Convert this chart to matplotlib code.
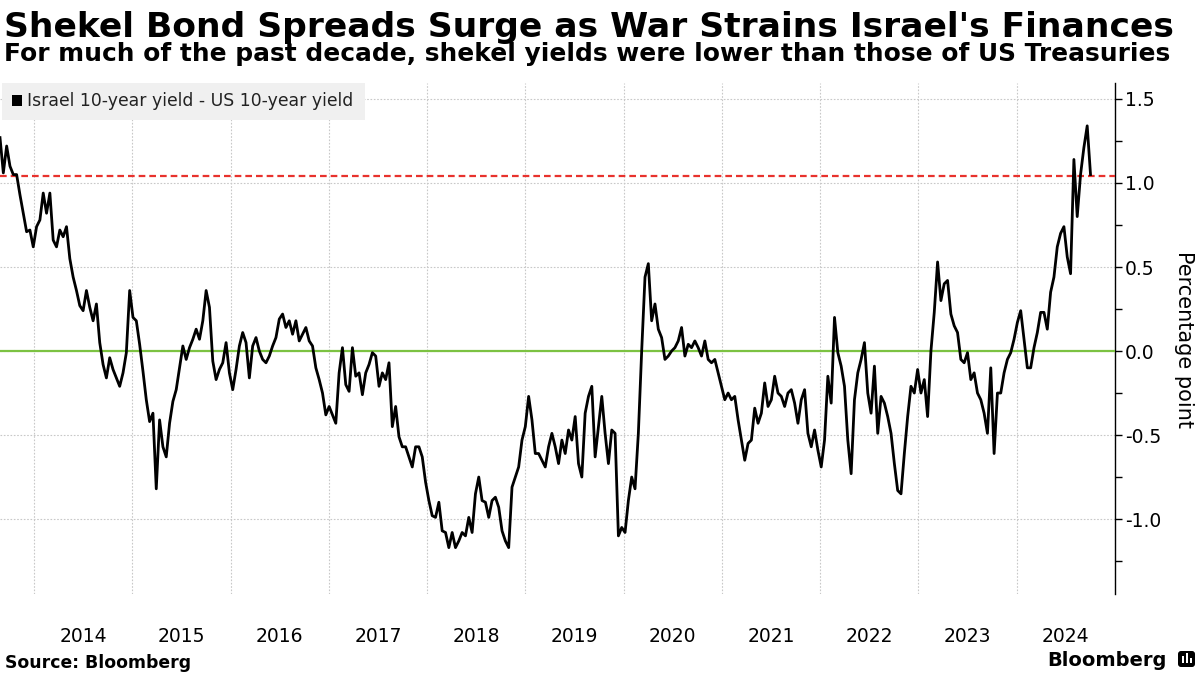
import numpy as np
import pandas as pd
import matplotlib
matplotlib.use('Agg')
import matplotlib.pyplot as plt
import matplotlib.dates as mdates
from matplotlib.ticker import MultipleLocator, FormatStrFormatter, NullFormatter
from matplotlib.patches import Rectangle, FancyBboxPatch
from matplotlib.transforms import IdentityTransform

plt.rcParams['font.family'] = ['DejaVu Sans']
plt.rcParams['axes.unicode_minus'] = False

# Israel 10y minus US 10y, percentage points
start_date = '2013-08-27'
end_date = '2024-10-02'

spread_2013_2015 = [1.27, 1.06, 1.22, 1.10, 1.05, 1.05, 0.93, 0.82, 0.71, 0.72,
                    0.62, 0.74, 0.78, 0.94, 0.82, 0.94, 0.66, 0.62, 0.72, 0.68,
                    0.74, 0.55, 0.44, 0.36, 0.27, 0.24, 0.36, 0.26, 0.18, 0.28,
                    0.05, -0.08, -0.16, -0.04, -0.11, -0.16, -0.21, -0.13, -0.01, 0.36,
                    0.20, 0.18, 0.04, -0.12, -0.29, -0.42, -0.37, -0.82, -0.41, -0.57,
                    -0.63, -0.43, -0.30, -0.23, -0.10, 0.03, -0.05]
spread_2015_2017 = [0.02, 0.07, 0.13, 0.07, 0.18, 0.36, 0.26, -0.06, -0.17, -0.11,
                    -0.07, 0.05, -0.13, -0.23, -0.11, 0.03, 0.11, 0.05, -0.16, 0.03,
                    0.08, 0.00, -0.05, -0.07, -0.03, 0.03, 0.08, 0.19, 0.22, 0.14,
                    0.18, 0.10, 0.18, 0.06, 0.10, 0.14, 0.06, 0.03, -0.10, -0.17,
                    -0.25, -0.38, -0.33, -0.38, -0.43, -0.13, 0.02, -0.20, -0.24, 0.02,
                    -0.15, -0.13, -0.26, -0.13, -0.08, -0.01, -0.03, -0.21]
spread_2017_2019 = [-0.13, -0.17, -0.07, -0.45, -0.33, -0.51, -0.57, -0.57, -0.63, -0.69,
                    -0.57, -0.57, -0.63, -0.78, -0.89, -0.98, -0.99, -0.90, -1.07, -1.08,
                    -1.17, -1.08, -1.17, -1.13, -1.08, -1.10, -0.99, -1.08, -0.85, -0.75,
                    -0.89, -0.90, -0.99, -0.89, -0.87, -0.93, -1.07, -1.13, -1.17, -0.81,
                    -0.75, -0.69, -0.53, -0.45, -0.27, -0.41, -0.61, -0.61, -0.65, -0.69,
                    -0.57, -0.49, -0.57, -0.67, -0.53, -0.61, -0.47]
spread_2019_2021 = [-0.53, -0.39, -0.67, -0.75, -0.37, -0.27, -0.21, -0.63, -0.45, -0.27,
                    -0.49, -0.67, -0.47, -0.49, -1.10, -1.05, -1.08, -0.89, -0.75, -0.82,
                    -0.49, 0.00, 0.44, 0.52, 0.18, 0.28, 0.13, 0.08, -0.05, -0.03,
                    0.00, 0.02, 0.06, 0.14, -0.03, 0.04, 0.02, 0.06, 0.02, -0.03,
                    0.06, -0.05, -0.07, -0.05, -0.13, -0.21, -0.29, -0.25, -0.29, -0.27,
                    -0.41, -0.53, -0.65, -0.55, -0.53, -0.34]
spread_2021_2023 = [-0.43, -0.37, -0.19, -0.33, -0.29, -0.15, -0.25, -0.27, -0.33, -0.25,
                    -0.23, -0.31, -0.43, -0.29, -0.23, -0.49, -0.57, -0.47, -0.59, -0.69,
                    -0.53, -0.15, -0.31, 0.20, -0.01, -0.09, -0.21, -0.53, -0.73, -0.29,
                    -0.13, -0.05, 0.05, -0.25, -0.37, -0.09, -0.49, -0.27, -0.31, -0.39,
                    -0.49, -0.67, -0.83, -0.85, -0.61, -0.39, -0.21, -0.25, -0.11, -0.25,
                    -0.17, -0.39, 0.00, 0.23, 0.53, 0.30, 0.40]
spread_2023_2024 = [0.42, 0.22, 0.15, 0.11, -0.05, -0.07, -0.01, -0.17, -0.13, -0.25,
                    -0.29, -0.37, -0.49, -0.10, -0.61, -0.25, -0.25, -0.13, -0.05, -0.01,
                    0.07, 0.17, 0.24, 0.07, -0.10, -0.10, 0.02, 0.11, 0.23, 0.23,
                    0.13, 0.35, 0.44, 0.62, 0.70, 0.74, 0.56, 0.46, 1.14, 0.80,
                    1.05, 1.21, 1.34, 1.05]

latest_level = 1.04
zero_level = 0.0

title = "Shekel Bond Spreads Surge as War Strains Israel's Finances"
subtitle = "For much of the past decade, shekel yields were lower than those of US Treasuries"
series_name = "Israel 10-year yield - US 10-year yield"
y_label = "Percentage point"
source = "Source: Bloomberg"

spread = (spread_2013_2015 + spread_2015_2017 + spread_2017_2019 +
          spread_2019_2021 + spread_2021_2023 + spread_2023_2024)
dates = pd.date_range(start_date, end_date, periods=len(spread))

W, H = 1200, 675
def fx(px):
    return px / W
def fy(py):
    return 1 - py / H

fig = plt.figure(figsize=(12, 6.75), dpi=100)
ax = fig.add_axes([0, fy(594), fx(1115), (594 - 83) / H])

ax.plot(dates, spread, color='black', lw=2.0, zorder=4)
ax.axhline(zero_level, color='#7cc242', lw=1.6, zorder=3)
ax.axhline(latest_level, color='#e8322d', lw=1.6, ls=(0, (3, 1.8)), zorder=3)

ax.set_xlim(pd.Timestamp('2013-08-27'), pd.Timestamp('2025-01-01'))
ax.set_ylim(-1.446, 1.595)

for s in ['top', 'left', 'bottom']:
    ax.spines[s].set_visible(False)
ax.spines['right'].set_color('black')
ax.spines['right'].set_linewidth(1)

ax.yaxis.tick_right()
ax.yaxis.set_major_locator(MultipleLocator(0.5))
ax.yaxis.set_minor_locator(MultipleLocator(0.25))
ax.yaxis.set_major_formatter(FormatStrFormatter('%.1f'))
ax.tick_params(axis='y', which='both', direction='out', length=5, width=1,
               color='black', labelsize=13.5, pad=2)

ax.xaxis.set_major_locator(mdates.YearLocator())
ax.xaxis.set_major_formatter(NullFormatter())
ax.xaxis.set_minor_locator(mdates.MonthLocator(bymonth=7, bymonthday=2))
ax.xaxis.set_minor_formatter(mdates.DateFormatter('%Y'))
ax.tick_params(axis='x', which='both', length=0, labelsize=13.5, pad=24)

ax.grid(True, which='major', color='#c8c8c8', ls=(0, (1.5, 1.5)), lw=0.8, zorder=1)

# legend box
fig.add_artist(Rectangle((fx(2), fy(120)), fx(363), 37 / H, transform=fig.transFigure,
                         facecolor='#f0f0f0', edgecolor='none', zorder=5))
fig.add_artist(Rectangle((fx(12), fy(106)), fx(10), 11 / H, transform=fig.transFigure,
                         facecolor='black', edgecolor='none', zorder=6))
fig.text(fx(27), fy(101), series_name, fontsize=12.4, va='center', ha='left',
         color='#222222', zorder=6)

fig.text(fx(4), fy(37), title, fontsize=24.8, weight='bold', va='baseline')
fig.text(fx(4), fy(61), subtitle, fontsize=17.9, weight='bold', va='baseline')
fig.text(fx(1184), fy(340), y_label, fontsize=15, rotation=270, va='center', ha='center')
fig.text(fx(5), fy(668), source, fontsize=12.4, weight='bold', va='baseline')
fig.text(fx(1167), fy(666), 'Bloomberg', fontsize=14, weight='bold', va='baseline', ha='right')

# small logo mark
fig.add_artist(FancyBboxPatch((1178, 675 - 667), 17, 16, boxstyle='round,pad=0,rounding_size=3',
                              transform=IdentityTransform(), facecolor='black', edgecolor='none'))
for bx, bh in [(1181.5, 7), (1185.5, 10), (1189.5, 5)]:
    fig.add_artist(Rectangle((bx, 675 - 663), 2.5, bh, transform=IdentityTransform(),
                             facecolor='white', edgecolor='none', zorder=3))

fig.savefig('out.png', dpi=100)
